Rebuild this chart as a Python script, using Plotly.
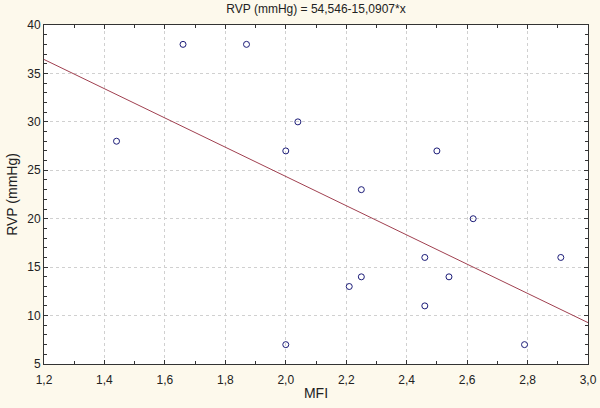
import plotly.graph_objects as go

# MFI vs RVP scatter values
mfi = [1.44, 1.66, 1.87, 2.00, 2.04, 2.00, 2.25, 2.21, 2.25, 2.46, 2.46, 2.50, 2.54, 2.62, 2.79, 2.91]
rvp = [28, 38, 38, 27, 30, 7, 23, 13, 14, 16, 11, 27, 14, 20, 7, 16]

# regression line end points (RVP = 54,546 - 15,0907*x)
fit_x = [1.2, 3.0]
fit_y = [36.44, 9.27]

title_text = "RVP (mmHg) = 54,546-15,0907*x"

fig = go.Figure()

fig.add_trace(
    go.Scatter(
        x=fit_x,
        y=fit_y,
        mode="lines",
        line=dict(color="#a04050", width=1),
        hoverinfo="skip",
    )
)

fig.add_trace(
    go.Scatter(
        x=mfi,
        y=rvp,
        mode="markers",
        marker=dict(symbol="circle-open", size=6, color="#1c1c78", line=dict(width=1)),
    )
)

axis_font = dict(family="Liberation Sans, Arial, sans-serif", size=12, color="#222222")

fig.update_layout(
    width=600,
    height=408,
    margin=dict(l=44, r=12, t=25, b=44),
    paper_bgcolor="#fdf9ec",
    plot_bgcolor="white",
    showlegend=False,
    separators=", ",
    font=axis_font,
    title=dict(
        text=title_text,
        x=0.5,
        xref="paper",
        y=0.978,
        yref="container",
        yanchor="middle",
        font=dict(size=12, color="#222222"),
    ),
)

fig.update_xaxes(
    range=[1.2, 3.0],
    tick0=1.2,
    dtick=0.2,
    tickformat=".1f",
    ticks="inside",
    ticklen=4,
    tickcolor="#333333",
    ticklabelstandoff=5,
    showline=True,
    linecolor="#333333",
    linewidth=1,
    mirror="ticks",
    showgrid=True,
    gridcolor="#d0d0d0",
    griddash="dot",
    gridwidth=1,
    zeroline=False,
    automargin=False,
    minor=dict(dtick=0.1, ticks="inside", ticklen=3, tickcolor="#333333", showgrid=False),
    title=dict(text="MFI", standoff=1),
)

fig.update_yaxes(
    range=[5, 40],
    tick0=5,
    dtick=5,
    ticks="inside",
    ticklen=4,
    tickcolor="#333333",
    showline=True,
    linecolor="#333333",
    linewidth=1,
    mirror="ticks",
    showgrid=True,
    gridcolor="#d0d0d0",
    griddash="dot",
    gridwidth=1,
    zeroline=False,
    automargin=False,
    minor=dict(dtick=1, ticks="inside", ticklen=3, tickcolor="#333333", showgrid=False),
    title=dict(text="RVP (mmHg)", standoff=6),
)

# the page body has a default 8px margin; drop it so the figure sits at the corner
fig.write_html(
    "out.html",
    config={"displayModeBar": False},
    post_script="document.body.style.margin = '0';",
)
